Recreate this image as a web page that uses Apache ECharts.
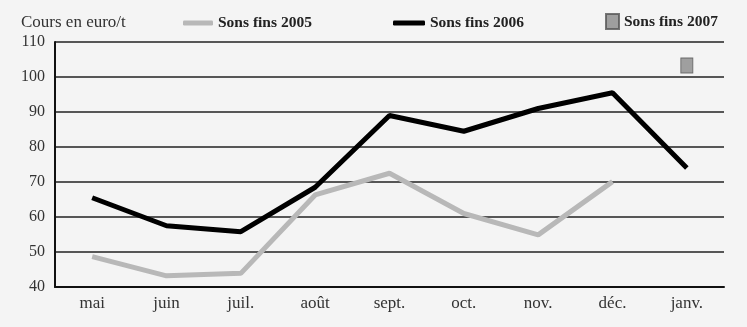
<!DOCTYPE html>
<html><head><meta charset="utf-8">
<script src="https://cdn.jsdelivr.net/npm/echarts@6/dist/echarts.min.js"></script>
<style>html,body{margin:0;padding:0;background:#f4f4f4}#c{width:747px;height:327px}</style>
</head><body><div id="c"></div>
<script>
const categories = ['mai','juin','juil.','août','sept.','oct.','nov.','déc.','janv.'];
const sons2005 = [48.7, 43.2, 43.9, 66.3, 72.5, 61, 54.9, 70.1, null];
const sons2006 = [65.5, 57.5, 55.8, 68.5, 89, 84.5, 91, 95.5, 74];
const sons2007 = [null, null, null, null, null, null, null, null, 103.3];
const yTicks = {min: 40, max: 110, interval: 10};
const font = 'Liberation Serif, DejaVu Serif, serif';
const legendText = {fontFamily: font, fontSize: 15.5, fontWeight: 'bold', color: '#222'};

const chart = echarts.init(document.getElementById('c'));
chart.setOption({
  backgroundColor: '#f4f4f4',
  animation: false,
  title: {text: 'Cours en euro/t', left: 16, top: 9,
    textStyle: {fontFamily: font, fontSize: 17, fontWeight: 'normal', color: '#333'}},
  legend: [
    {data: ['Sons fins 2005'], left: 178, top: 10, itemWidth: 30, itemHeight: 5, icon: 'roundRect',
     textStyle: legendText},
    {data: ['Sons fins 2006'], left: 388, top: 10, itemWidth: 32, itemHeight: 5, icon: 'roundRect',
     textStyle: legendText},
    {data: ['Sons fins 2007'], left: 600, top: 8, itemWidth: 13, itemHeight: 15, icon: 'rect',
     textStyle: legendText}
  ],
  grid: {left: 55, right: 23, top: 42, bottom: 40},
  xAxis: {
    type: 'category', data: categories, boundaryGap: true,
    axisLine: {lineStyle: {color: '#111', width: 2}},
    axisTick: {inside: true, length: 6, lineStyle: {color: '#111', width: 2}},
    axisLabel: {fontFamily: font, fontSize: 17, color: '#333', margin: 8}
  },
  yAxis: {
    type: 'value', min: yTicks.min, max: yTicks.max, interval: yTicks.interval,
    axisLine: {show: true, lineStyle: {color: '#111', width: 2}},
    axisTick: {show: false},
    splitLine: {lineStyle: {color: '#222', width: 1.5}},
    axisLabel: {fontFamily: font, fontSize: 16, color: '#333', margin: 10}
  },
  series: [
    {name: 'Sons fins 2005', type: 'line', data: sons2005, symbol: 'none',
     lineStyle: {color: '#b8b8b8', width: 5}, itemStyle: {color: '#b8b8b8'}},
    {name: 'Sons fins 2006', type: 'line', data: sons2006, symbol: 'none',
     lineStyle: {color: '#000', width: 5}, itemStyle: {color: '#000'}},
    {name: 'Sons fins 2007', type: 'scatter', data: sons2007, symbol: 'rect', symbolSize: [12, 15],
     itemStyle: {color: '#8a8a8a', borderColor: '#555', borderWidth: 1}}
  ]
});
</script></body></html>
